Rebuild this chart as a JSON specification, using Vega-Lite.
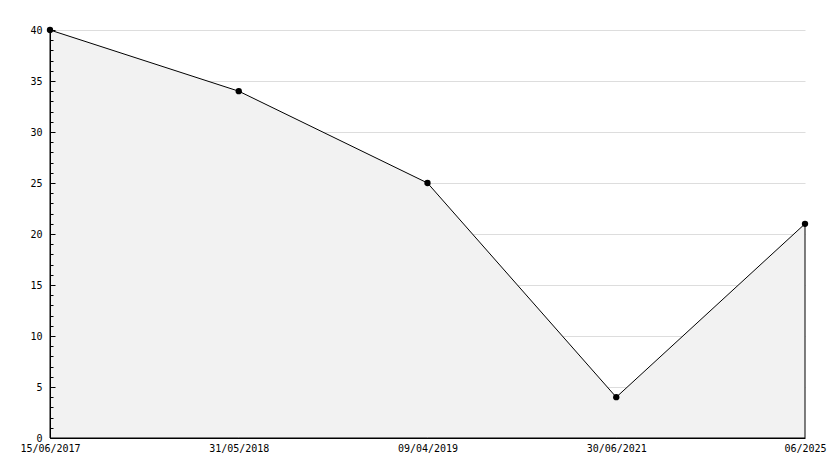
{
  "$schema": "https://vega.github.io/schema/vega-lite/v6.json",
  "width": 755,
  "height": 408,
  "autosize": {"type": "none"},
  "padding": {"left": 50, "top": 30, "right": 29, "bottom": 30},
  "background": "white",
  "config": {
    "view": {"stroke": null},
    "axis": {"labelFont": "DejaVu Sans Mono", "labelFontSize": 10, "labelColor": "black", "domainColor": "black", "tickColor": "black", "gridColor": "#dddddd"}
  },
  "data": {"values": [
    {"date": "15/06/2017", "value": 40},
    {"date": "31/05/2018", "value": 34},
    {"date": "09/04/2019", "value": 25},
    {"date": "30/06/2021", "value": 4},
    {"date": "06/2025", "value": 21}
  ]},
  "encoding": {
    "x": {"field": "date", "type": "ordinal", "sort": null, "scale": {"type": "point", "padding": 0},
      "axis": {"title": null, "labelAngle": 0, "ticks": false, "grid": false, "labelPadding": 5, "domainWidth": 1, "zindex": 1}}
  },
  "layer": [
    {"mark": {"type": "area", "fill": "#f2f2f2", "stroke": "black", "strokeWidth": 1},
      "encoding": {"y": {"field": "value", "type": "quantitative", "scale": {"domain": [0, 40], "nice": false},
        "axis": {"title": null, "orient": "left", "values": [5,10,15,20,25,30,35,40], "labels": false, "ticks": false, "domain": false, "grid": true, "zindex": 0}}}},
    {"mark": {"type": "point", "filled": true, "color": "black", "size": 40, "opacity": 1},
      "encoding": {"y": {"field": "value", "type": "quantitative", "scale": {"domain": [0, 40], "nice": false},
        "axis": {"title": null, "orient": "left", "zindex": 1, "grid": false,
          "values": [0,1,2,3,4,5,6,7,8,9,10,11,12,13,14,15,16,17,18,19,20,21,22,23,24,25,26,27,28,29,30,31,32,33,34,35,36,37,38,39,40],
          "labelExpr": "datum.value % 5 === 0 ? datum.label : ''",
          "tickSize": {"condition": {"test": "datum.value % 5 === 0", "value": -5}, "value": -3},
          "labelPadding": 13,
          "labelOverlap": false}}}}
  ],
  "resolve": {"axis": {"y": "independent"}}
}
